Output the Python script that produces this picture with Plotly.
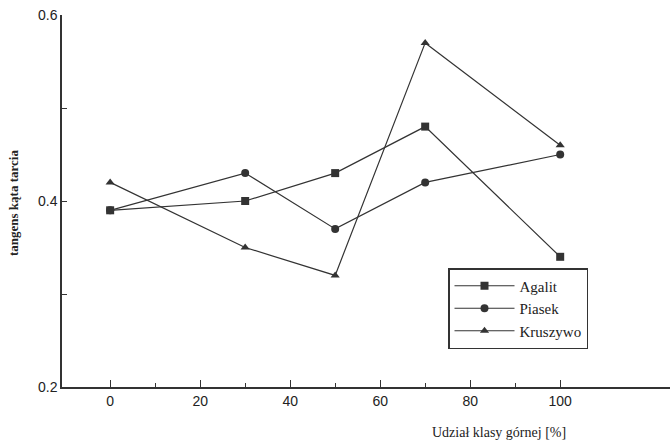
import plotly.graph_objects as go

x_vals = [0, 30, 50, 70, 100]
agalit = [0.39, 0.40, 0.43, 0.48, 0.34]
piasek = [0.39, 0.43, 0.37, 0.42, 0.45]
kruszywo = [0.42, 0.35, 0.32, 0.57, 0.46]
series_names = ["Agalit", "Piasek", "Kruszywo"]
y_ticks = [0.2, 0.4, 0.6]
y_ticktext = ["0.2", "0.4", "0.6"]
x_ticks = [0, 20, 40, 60, 80, 100]

col = "#333333"
serif = "Liberation Serif, Times New Roman, serif"
fig = go.Figure()
for name, vals, sym in zip(series_names, [agalit, piasek, kruszywo],
                           ["square", "circle", "triangle-up"]):
    fig.add_trace(go.Scatter(
        x=x_vals, y=vals, name=name, mode="lines+markers",
        line=dict(color=col, width=1.2),
        marker=dict(symbol=sym, size=8, color=col),
    ))

plot_w = 670 - 62
plot_h = 447 - 15 - 60

fig.update_layout(
    width=670, height=447,
    margin=dict(l=62, r=0, t=15, b=60),
    paper_bgcolor="white", plot_bgcolor="white",
    font=dict(family="Liberation Sans", color="#222222", size=13),
    showlegend=True,
    legend=dict(
        x=(448 - 62) / plot_w, y=(447 - 60 - 268) / plot_h,
        xanchor="left", yanchor="top",
        bgcolor="white", bordercolor="#333333", borderwidth=1.5,
        font=dict(family=serif, size=15, color="#222222"),
        tracegroupgap=0, itemwidth=60,
    ),
)

fig.update_xaxes(
    range=[-10.7, 124.4], tickvals=x_ticks, ticks="inside", ticklen=7,
    tickcolor=col, showline=True, linecolor=col, linewidth=1.5,
    showgrid=False, zeroline=False,
    minor=dict(tickvals=[10, 30, 50, 70, 90], ticks="inside", ticklen=4, tickcolor=col, showgrid=False),
    tickfont=dict(size=14),
)
fig.update_yaxes(
    range=[0.2, 0.6], tickvals=y_ticks, ticktext=y_ticktext, ticks="inside", ticklen=5,
    tickcolor=col, showline=True, linecolor=col, linewidth=1.5,
    showgrid=False, zeroline=False,
    minor=dict(tickvals=[0.3, 0.5], ticks="inside", ticklen=5, tickcolor=col, showgrid=False),
    tickfont=dict(size=14),
)
fig.add_annotation(
    text="<b>tangens kąta tarcia</b>", textangle=-90,
    x=(13 - 62) / plot_w, y=(447 - 60 - 203) / plot_h,
    xanchor="center", yanchor="middle",
    xref="paper", yref="paper", showarrow=False,
    font=dict(family=serif, size=13, color="#222222"),
)
fig.add_annotation(
    text="Udział klasy górnej [%]", x=(499 - 62) / plot_w, y=(447 - 60 - 432) / plot_h,
    xanchor="center", yanchor="middle",
    xref="paper", yref="paper", showarrow=False,
    font=dict(family=serif, size=14, color="#222222"),
)
fig.write_html("out.html")
